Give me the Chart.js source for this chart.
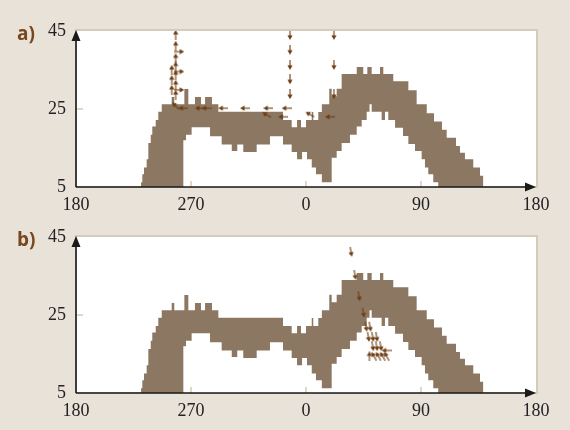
<!DOCTYPE html>
<html>
<head>
<meta charset="utf-8">
<script src="https://cdn.jsdelivr.net/npm/chart.js@4.4.1/dist/chart.umd.min.js"></script>
<style>
  html, body { margin: 0; padding: 0; background: #e8e2d9; }
  #wrap { position: relative; width: 570px; height: 430px; overflow: hidden; }
  .panel { position: absolute; left: 0; width: 570px; height: 215px; }
  #pa { top: 0; }
  #pb { top: 215px; }
  .tag { position: absolute; font: 700 19px 'Open Sans', sans-serif; color: #7a461c; line-height: 1; }
</style>
</head>
<body>
<div id="wrap">
  <div class="panel" id="pa"><canvas id="ca" width="570" height="215"></canvas></div>
  <div class="panel" id="pb"><canvas id="cb" width="570" height="215"></canvas></div>
  <div class="tag" style="left:17px;top:24px">a)</div>
  <div class="tag" style="left:17px;top:230px">b)</div>
</div>
<script>
// longitude runs 180 -> 360 (=0) -> 540 (=180)
const X_TICKS = [180, 270, 360, 450, 540];
const Y_TICKS = [5, 25, 45];

// band: value at each longitude holds until the next one (stepped)
const BAND_LON = [230.9, 231.9, 233.2, 235.3, 236.6, 238.5, 239.7, 242.4, 244.4, 247.1,
  254.9, 256.9, 264.0, 264.8, 266.1, 267.9, 270.5, 273.1, 277.8, 281.0,
  284.9, 286.4, 291.4, 294.0, 301.9, 306.2, 310.9, 321.4, 331.8, 342.0,
  348.8, 353.0, 356.1, 356.9, 360.0, 360.8, 364.5, 365.7, 367.8, 369.6,
  372.4, 378.2, 380.1, 384.0, 387.9, 394.4, 399.7, 403.6, 404.8, 407.5,
  408.0, 409.7, 411.4, 417.9, 419.2, 420.5, 421.8, 424.4, 428.3, 429.7,
  435.9, 440.1, 445.3, 446.6, 450.5, 453.1, 454.5, 455.7, 459.6, 460.2,
  463.5, 466.4, 470.1, 477.4, 480.5, 484.4, 490.9, 496.2, 498.8];
const BAND_TOP = [6.2, 8.3, 10.0, 12.1, 16.3, 18.4, 20.5, 22.2, 24.3, 26.2,
  28.1, 26.2, 26.2, 30.1, 30.1, 26.2, 26.2, 28.1, 26.2, 28.1,
  28.1, 26.2, 24.3, 24.3, 24.3, 24.3, 24.3, 24.3, 24.3, 22.2,
  20.3, 22.2, 20.3, 20.3, 22.2, 22.2, 24.2, 22.2, 22.2, 24.2,
  26.2, 30.2, 28.3, 30.2, 34.0, 34.0, 35.8, 35.8, 34.0, 34.0,
  35.8, 35.8, 34.0, 35.8, 35.8, 34.0, 34.0, 34.0, 32.1, 32.1,
  32.1, 29.8, 29.8, 26.2, 26.2, 26.2, 23.9, 23.9, 23.9, 21.8,
  21.8, 19.7, 17.6, 15.5, 13.8, 12.1, 10.0, 7.9, 7.9];
const BAND_BOTTOM = [5, 5, 5, 5, 5, 5, 5, 5, 5, 5,
  5, 5, 17.0, 17.0, 18.4, 18.4, 20.3, 20.3, 20.3, 20.3,
  18.0, 18.0, 18.0, 15.9, 14.2, 15.9, 14.0, 15.9, 18.0, 15.9,
  14.0, 12.1, 12.1, 14.0, 14.0, 12.1, 10.0, 10.0, 8.3, 8.3,
  6.2, 6.2, 12.5, 14.2, 16.3, 18.4, 20.5, 22.2, 22.2, 24.3,
  24.3, 26.2, 24.3, 24.3, 22.2, 22.2, 24.3, 22.2, 22.2, 20.2,
  18.1, 16.0, 14.2, 14.2, 12.1, 10.0, 10.0, 8.3, 6.2, 6.2,
  5, 5, 5, 5, 5, 5, 5, 5, 5];

// arrows: direction in degrees clockwise from "up"
const ARROW_A_LON = [258.0, 258.0, 258.0, 258.0, 258.0, 258.0, 258.0,
  254.9, 254.9, 254.9, 260.8, 260.8, 260.8, 258.0,
  264.0, 277.0, 282.3, 295.3, 312.3, 330.5, 344.9,
  329.2, 363.1, 342.2, 378.8,
  347.5, 347.5, 347.5, 347.5, 347.5, 381.9, 381.9, 381.9];
const ARROW_A_LAT = [44.0, 41.2, 38.0, 35.9, 33.7, 31.2, 28.6,
  35.0, 32.4, 29.9, 39.7, 34.6, 29.9, 25.8,
  25.2, 25.2, 25.2, 25.2, 25.2, 25.2, 25.2,
  23.5, 23.6, 23.0, 23.0,
  44.0, 40.2, 36.3, 32.6, 28.8, 44.0, 36.3, 28.8];
const ARROW_A_DIR = [0, 0, 0, 0, 0, 0, 0,
  0, 0, 0, 90, 90, 90, 315,
  270, 270, 270, 270, 270, 270, 270,
  300, 300, 270, 270,
  180, 180, 180, 180, 180, 180, 180, 180];

const ARROW_B_LON = [395.2, 398.3, 401.5, 404.9, 407.0, 410.1, 408.8, 412.2, 415.3,
  412.2, 415.3, 418.5, 423.1, 409.6, 413.2, 416.6, 420.0, 423.1];
const ARROW_B_LAT = [41.2, 35.3, 29.8, 25.6, 22.0, 22.0, 19.4, 19.4, 19.4,
  17.0, 17.0, 17.0, 15.9, 14.4, 14.4, 14.4, 14.4, 14.4];
const ARROW_B_DIR = [170, 170, 170, 170, 170, 170, 170, 170, 170,
  170, 170, 170, 270, 0, 330, 330, 330, 330];

const BAND_COLOR = '#8c7762';
const ARROW_COLOR = '#6e3d12';
const AXIS_FONT = { family: "'Liberation Serif', 'Times New Roman', serif", size: 18 };

function arrowGlyph() {
  const c = document.createElement('canvas');
  c.width = 6; c.height = 10;
  const g = c.getContext('2d');
  g.strokeStyle = ARROW_COLOR; g.fillStyle = ARROW_COLOR; g.lineWidth = 1.1;
  g.beginPath(); g.moveTo(3, 10); g.lineTo(3, 3); g.stroke();
  g.beginPath(); g.moveTo(3, 0); g.lineTo(5.6, 4.6); g.lineTo(0.4, 4.6); g.closePath(); g.fill();
  return c;
}
const GLYPH = arrowGlyph();

function seg(ctx, x1, y1, x2, y2) {
  ctx.beginPath(); ctx.moveTo(x1, y1); ctx.lineTo(x2, y2); ctx.stroke();
}

const framePlugin = {
  id: 'frame',
  beforeDatasetsDraw(chart) {
    const { ctx, chartArea: a } = chart;
    ctx.save();
    ctx.fillStyle = '#fff';
    ctx.fillRect(a.left, a.top, a.width, a.height);
    ctx.strokeStyle = '#d6cab9';
    ctx.lineWidth = 2;
    ctx.strokeRect(a.left, a.top - 1, a.width + 1, a.height + 1);
    ctx.restore();
  },
  afterDatasetsDraw(chart) {
    const { ctx, chartArea: a, scales: { x, y } } = chart;
    ctx.save();
    // small inward ticks, only visible where the band leaves white
    ctx.strokeStyle = '#d8c8b0';
    ctx.lineWidth = 1.5;
    X_TICKS.slice(1, -1).forEach(v => {
      const px = x.getPixelForValue(v);
      seg(ctx, px, a.bottom, px, a.bottom - 6);
    });
    Y_TICKS.slice(1, -1).forEach(v => {
      const py = y.getPixelForValue(v);
      seg(ctx, a.left, py, a.left + 7, py);
    });
    ctx.restore();
  },
  afterDraw(chart) {
    const { ctx, chartArea: a } = chart;
    ctx.save();
    ctx.strokeStyle = '#1a1a1a';
    ctx.fillStyle = '#1a1a1a';
    ctx.lineWidth = 1.6;
    seg(ctx, a.left, a.bottom, a.right - 8, a.bottom);
    seg(ctx, a.left, a.bottom, a.left, a.top + 8);
    ctx.beginPath();
    ctx.moveTo(a.right, a.bottom); ctx.lineTo(a.right - 11, a.bottom - 4.5); ctx.lineTo(a.right - 11, a.bottom + 4.5);
    ctx.closePath(); ctx.fill();
    ctx.beginPath();
    ctx.moveTo(a.left, a.top - 1); ctx.lineTo(a.left - 4.5, a.top + 10); ctx.lineTo(a.left + 4.5, a.top + 10);
    ctx.closePath(); ctx.fill();
    ctx.restore();
  }
};

function makePanel(canvas, arrowLon, arrowLat, arrowDir, padTop, xAxisHeight) {
  const pts = (xs, ys) => xs.map((v, i) => ({ x: v, y: ys[i] }));
  return new Chart(canvas, {
    type: 'line',
    data: {
      datasets: [
        {
          type: 'scatter',
          data: pts(arrowLon, arrowLat),
          pointStyle: GLYPH,
          pointRadius: 4,
          pointRotation: c => arrowDir[c.dataIndex] || 0,
          showLine: false
        },
        {
          // inner edge: white fill down to the axis cuts the hole out of the band
          data: pts(BAND_LON, BAND_BOTTOM),
          stepped: true,
          borderWidth: 0,
          pointRadius: 0,
          backgroundColor: '#ffffff',
          fill: 'start'
        },
        {
          data: pts(BAND_LON, BAND_TOP),
          stepped: true,
          borderWidth: 0,
          pointRadius: 0,
          backgroundColor: BAND_COLOR,
          fill: 'start'
        }
      ]
    },
    options: {
      responsive: false,
      animation: false,
      events: [],
      layout: { padding: { top: padTop, right: 34, left: 0, bottom: 0 } },
      plugins: { legend: { display: false }, tooltip: { enabled: false } },
      scales: {
        x: {
          type: 'linear', min: 180, max: 540,
          afterBuildTicks: s => { s.ticks = X_TICKS.map(v => ({ value: v })); },
          afterFit: s => { s.height = xAxisHeight; },
          grid: { display: false, drawTicks: false },
          border: { display: false },
          ticks: { callback: v => String(v % 360), font: AXIS_FONT, color: '#222', padding: 7, maxRotation: 0, autoSkip: false }
        },
        y: {
          type: 'linear', min: 5, max: 45,
          afterBuildTicks: s => { s.ticks = Y_TICKS.map(v => ({ value: v })); },
          afterFit: s => { s.width = 76; },
          grid: { display: false, drawTicks: false },
          border: { display: false },
          ticks: { font: AXIS_FONT, color: '#222', padding: 10 }
        }
      }
    },
    plugins: [framePlugin]
  });
}

makePanel(document.getElementById('ca'), ARROW_A_LON, ARROW_A_LAT, ARROW_A_DIR, 31, 28);
makePanel(document.getElementById('cb'), ARROW_B_LON, ARROW_B_LAT, ARROW_B_DIR, 22, 37);
</script>
</body>
</html>
